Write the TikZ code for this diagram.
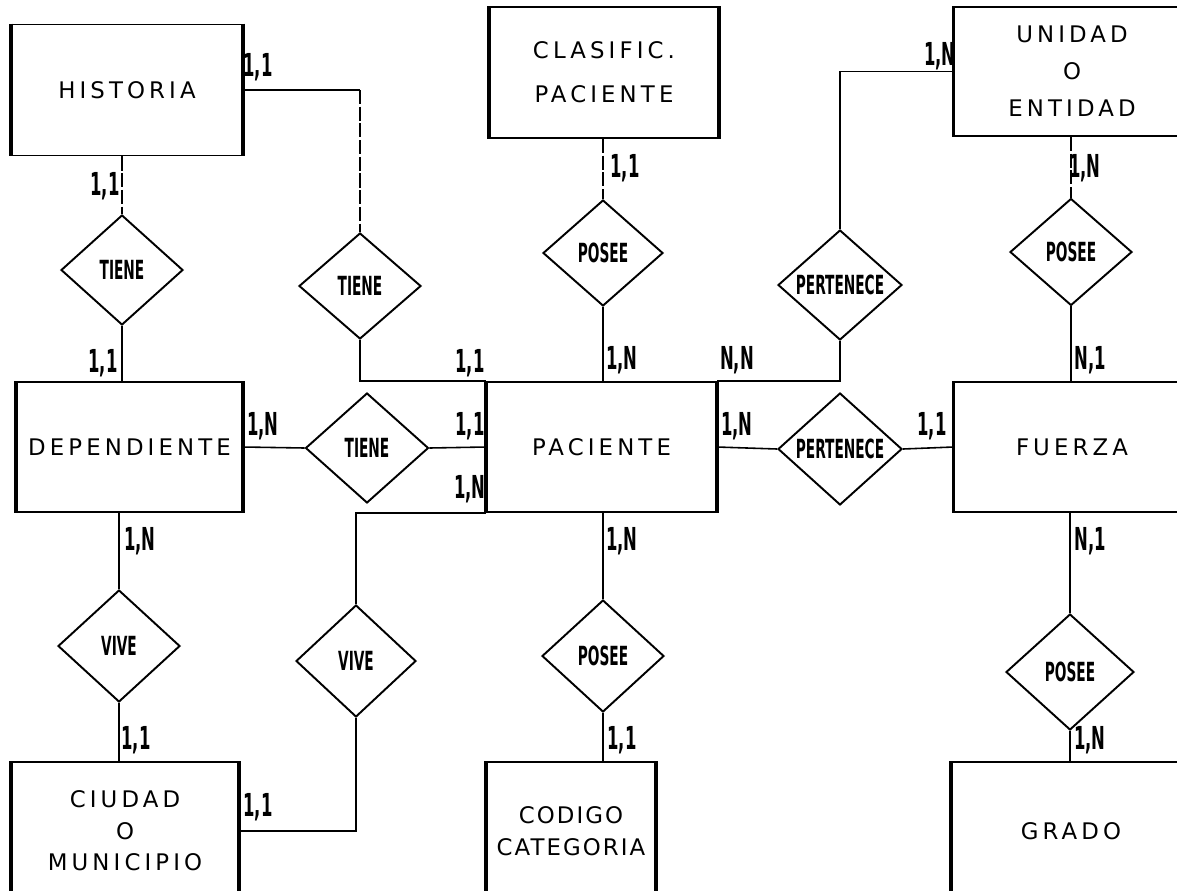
\documentclass[tikz,border=0pt]{standalone}
\usepackage{fontspec}
\usetikzlibrary{shapes.geometric}
\newfontfamily\entfont{DejaVu Sans}[LetterSpace=18]
\newfontfamily\entfontn{DejaVu Sans}[LetterSpace=9]
\newfontfamily\relfont{DejaVu Sans}[FakeStretch=0.52]
\begin{document}
\begin{tikzpicture}[x=0.02cm,y=-0.02cm,
  ent/.style={draw, line width=1.1pt, inner sep=0pt, align=center, font=\entfont\fontsize{13}{15}\selectfont},
  side/.style={line width=2pt},
  rel/.style={draw, shape=diamond, line width=1.1pt, inner sep=0pt, minimum width=2.44cm, minimum height=2.2cm},
  rellab/.style={font=\relfont\bfseries\fontsize{15}{17}\selectfont, inner sep=0pt},
  card/.style={font=\relfont\bfseries\fontsize{18}{20}\selectfont, inner sep=0pt},
  conn/.style={line width=0.9pt},
  broken/.style={conn, dash pattern=on 8pt off 1.5pt}]
\useasboundingbox (0,0) rectangle (1177,890);
\clip (0,0) rectangle (1177,890);
% entities
\node[ent, minimum width=4.6cm, minimum height=2.62cm] (hist) at (127,90) {HISTORIA};
\node[ent, minimum width=4.56cm, minimum height=2.62cm] (clas) at (604,72.5) {CLASIFIC.\\[10pt]PACIENTE};
\node[ent, minimum width=4.7cm, minimum height=2.58cm] (unid) at (1072,71.5) {UNIDAD\\[6pt]O\\[6pt]ENTIDAD};
\node[ent, minimum width=4.5cm, minimum height=2.6cm] (dep) at (129.5,447) {DEPENDIENTE};
\node[ent, minimum width=4.58cm, minimum height=2.6cm] (pac) at (601.5,447) {PACIENTE};
\node[ent, minimum width=4.7cm, minimum height=2.6cm] (fue) at (1072,447) {FUERZA};
\node[ent, minimum width=4.52cm, minimum height=2.76cm] (ciu) at (125,831) {CIUDAD\\[3pt]O\\[3pt]MUNICIPIO};
\node[ent, minimum width=3.36cm, minimum height=2.76cm, font=\entfontn\fontsize{13}{15}\selectfont] (cod) at (571,831) {CODIGO\\[3pt]CATEGORIA};
\node[ent, minimum width=4.76cm, minimum height=2.76cm] (gra) at (1071,831) {GRADO};
\foreach \e in {hist,clas,unid,dep,pac,fue,ciu,cod,gra}{
  \draw[side] (\e.north west) -- (\e.south west);
  \draw[side] (\e.north east) -- (\e.south east);
}
% relationships
\node[rel] (t1) at (122,270) {};
\node[rellab] (t1l) at (t1) {TIENE};
\node[rel, minimum height=2.12cm] (t2) at (360,286) {};
\node[rellab] (t2l) at (t2) {TIENE};
\node[rel, minimum width=2.4cm, minimum height=2.12cm] (p1) at (603,253) {};
\node[rellab] (p1l) at (p1) {POSEE};
\node[rel, minimum width=2.48cm] (pe1) at (840,285) {};
\node[rellab] (pe1l) at (pe1) {PERTENECE};
\node[rel, minimum height=2.14cm] (p2) at (1071,252) {};
\node[rellab] (p2l) at (p2) {POSEE};
\node[rel, minimum width=2.46cm] (t3) at (367,448) {};
\node[rellab] (t3l) at (t3) {TIENE};
\node[rel, minimum width=2.48cm, minimum height=2.24cm] (pe2) at (840,449) {};
\node[rellab] (pe2l) at (pe2) {PERTENECE};
\node[rel, minimum height=2.24cm] (v1) at (119,646) {};
\node[rellab] (v1l) at (v1) {VIVE};
\node[rel, minimum width=2.4cm, minimum height=2.24cm] (v2) at (356,661) {};
\node[rellab] (v2l) at (v2) {VIVE};
\node[rel, minimum height=2.24cm] (p3) at (603,656) {};
\node[rellab] (p3l) at (p3) {POSEE};
\node[rel, minimum width=2.56cm, minimum height=2.32cm] (p4) at (1070,672) {};
\node[rellab] (p4l) at (p4) {POSEE};
% connectors
\draw[broken] (t1.north |- hist.south) -- (t1.north);
\draw[conn] (t1.south) -- (t1.south |- dep.north);
\draw[conn] (hist.east) -- (hist.east -| t2.north);
\draw[broken] (hist.east -| t2.north) -- (t2.north);
\draw[conn] (t2.south) -- (t2.south |- pac.north) -- (pac.north west);
\draw[broken] (p1.north |- clas.south) -- (p1.north);
\draw[conn] (p1.south) -- (p1.south |- pac.north);
\draw[conn] (unid.west) -- (unid.west -| pe1.north) -- (pe1.north);
\draw[conn] (pe1.south) -- (pe1.south |- pac.north) -- (pac.north east);
\draw[broken] (p2.north |- unid.south) -- (p2.north);
\draw[conn] (p2.south) -- (p2.south |- fue.north);
\draw[conn] (dep.east) -- (t3.west);
\draw[conn] (t3.east) -- (pac.west);
\draw[conn] (pac.south west) -- (pac.south west -| v2.north) -- (v2.north);
\draw[conn] (v2.south) -- (v2.south |- ciu.east) -- (ciu.east);
\draw[conn] (v1.north |- dep.south) -- (v1.north);
\draw[conn] (v1.south) -- (v1.south |- ciu.north);
\draw[conn] (pac.east) -- (pe2.west);
\draw[conn] (pe2.east) -- (fue.west);
\draw[conn] (p3.north |- pac.south) -- (p3.north);
\draw[conn] (p3.south) -- (p3.south |- cod.north);
\draw[conn] (p4.north |- fue.south) -- (p4.north);
\draw[conn] (p4.south) -- (p4.south |- gra.north);
% cardinalities
\node[card] (c1) at (105,186) {1,1};
\node[card] (c2) at (258,67) {1,1};
\node[card] (c3) at (103,363) {1,1};
\node[card] (c4) at (470,363) {1,1};
\node[card] (c5) at (263,426) {1,N};
\node[card] (c6) at (470,426) {1,1};
\node[card] (c7) at (470,489) {1,N};
\node[card] (c8) at (140,541) {1,N};
\node[card] (c9) at (625,168) {1,1};
\node[card] (c10) at (622,360) {1,N};
\node[card] (c11) at (737,360) {N,N};
\node[card] (c12) at (940,56) {1,N};
\node[card] (c13) at (1085,168) {1,N};
\node[card] (c14) at (1090,360) {N,1};
\node[card] (c15) at (737,426) {1,N};
\node[card] (c16) at (932,426) {1,1};
\node[card] (c17) at (622,541) {1,N};
\node[card] (c18) at (1090,541) {N,1};
\node[card] (c19) at (136,740) {1,1};
\node[card] (c20) at (258,807) {1,1};
\node[card] (c21) at (622,740) {1,1};
\node[card] (c22) at (1090,740) {1,N};
\end{tikzpicture}
\end{document}
